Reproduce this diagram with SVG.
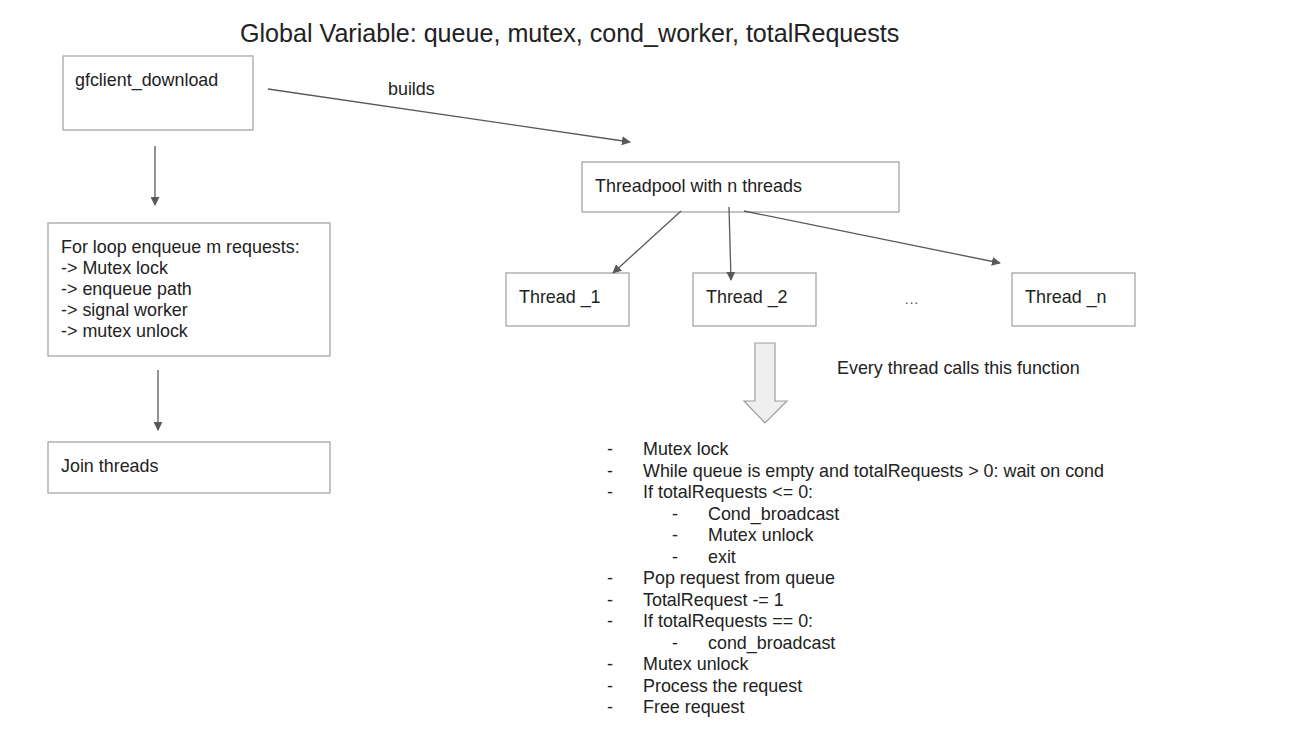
<svg xmlns="http://www.w3.org/2000/svg" width="1314" height="738" viewBox="0 0 1314 738">
<style>
text{font-family:"Liberation Sans",Arial,sans-serif;font-size:17.9px;fill:#222}
.box{fill:#fff;stroke:#9e9e9e;stroke-width:1.2}
.conn{stroke:#595959;stroke-width:1.3;fill:none;marker-end:url(#ah)}
.title{font-size:25.1px}
</style>
<defs>
<marker id="ah" viewBox="0 0 10 10" refX="9" refY="5" markerWidth="9" markerHeight="9" markerUnits="userSpaceOnUse" orient="auto">
<path d="M0,0 L10,5 L0,10 z" fill="#595959"/>
</marker>
</defs>
<rect width="1314" height="738" fill="#fff"/>
<text id="title" class="title" x="240" y="42">Global Variable: queue, mutex, cond_worker, totalRequests</text>

<g id="gfclient">
<rect class="box" x="63" y="56" width="190" height="74"/>
<text x="75" y="86">gfclient_download</text>
</g>

<g id="forloop">
<rect class="box" x="48" y="223" width="282" height="133"/>
<text x="61" y="253">For loop enqueue m requests:</text>
<text x="61" y="274">-&gt; Mutex lock</text>
<text x="61" y="295">-&gt; enqueue path</text>
<text x="61" y="316">-&gt; signal worker</text>
<text x="61" y="337">-&gt; mutex unlock</text>
</g>

<g id="join">
<rect class="box" x="48" y="442" width="282" height="51"/>
<text x="61" y="472">Join threads</text>
</g>

<g id="threadpool">
<rect class="box" x="582" y="162" width="317" height="50"/>
<text x="595" y="192">Threadpool with n threads</text>
</g>

<g id="thread1">
<rect class="box" x="506" y="273" width="123" height="53"/>
<text x="519" y="303">Thread _1</text>
</g>
<g id="thread2">
<rect class="box" x="693" y="273" width="123" height="53"/>
<text x="706" y="303">Thread _2</text>
</g>
<g id="ellipsis">
<text x="904" y="304" style="font-size:15px;fill:#555">…</text>
</g>
<g id="threadn">
<rect class="box" x="1012" y="273" width="123" height="53"/>
<text x="1025" y="303">Thread _n</text>
</g>

<g id="connectors">
<line class="conn" x1="268" y1="89" x2="630" y2="142"/>
<line class="conn" x1="155" y1="146" x2="155" y2="205"/>
<line class="conn" x1="158" y1="370" x2="158" y2="430"/>
<line class="conn" x1="681" y1="211" x2="613" y2="273"/>
<line class="conn" x1="729" y1="207" x2="731" y2="280"/>
<line class="conn" x1="744" y1="211" x2="1000" y2="263"/>
<text x="388" y="95">builds</text>
</g>

<g id="blockarrow">
<path d="M755,343 L775,343 L775,401 L787,401 L765,423 L744,401 L755,401 Z" fill="#efefef" stroke="#9e9e9e" stroke-width="1.2"/>
</g>
<g id="note">
<text x="837" y="374">Every thread calls this function</text>
</g>

<g id="function">
<text x="607" y="455">-</text><text x="643" y="455">Mutex lock</text>
<text x="607" y="476.5">-</text><text x="643" y="476.5">While queue is empty and totalRequests &gt; 0: wait on cond</text>
<text x="607" y="498">-</text><text x="643" y="498">If totalRequests &lt;= 0:</text>
<text x="672" y="519.5">-</text><text x="708" y="519.5">Cond_broadcast</text>
<text x="672" y="541">-</text><text x="708" y="541">Mutex unlock</text>
<text x="672" y="562.5">-</text><text x="708" y="562.5">exit</text>
<text x="607" y="584">-</text><text x="643" y="584">Pop request from queue</text>
<text x="607" y="605.5">-</text><text x="643" y="605.5">TotalRequest -= 1</text>
<text x="607" y="627">-</text><text x="643" y="627">If totalRequests == 0:</text>
<text x="672" y="648.5">-</text><text x="708" y="648.5">cond_broadcast</text>
<text x="607" y="670">-</text><text x="643" y="670">Mutex unlock</text>
<text x="607" y="691.5">-</text><text x="643" y="691.5">Process the request</text>
<text x="607" y="713">-</text><text x="643" y="713">Free request</text>
</g>
</svg>
